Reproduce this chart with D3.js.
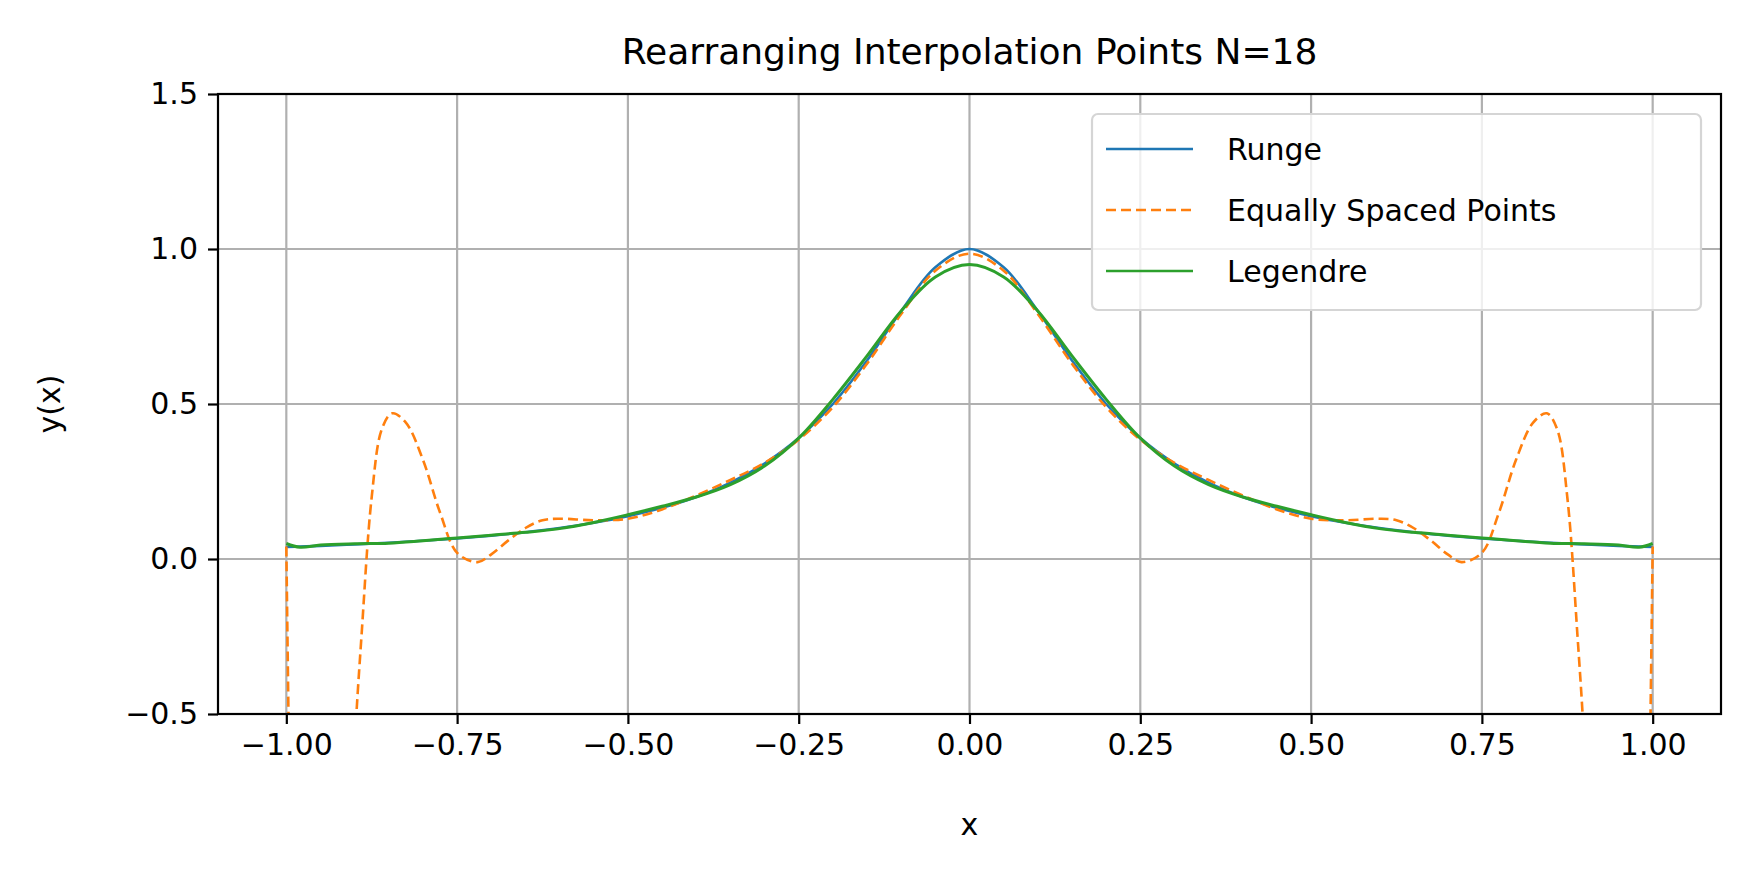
<html>
<head>
<meta charset="utf-8">
<script src="https://cdn.jsdelivr.net/npm/d3@7"></script>
</head>
<body style="margin:0;background:#fff;">
<svg></svg>
<script>
// values, right half (x >= 0); curves are symmetric
const rungeX = [0, .05, .1, .15, .2, .25, .3, .35, .4, .45, .5, .55, .6, .65, .7, .75, .8, .85, .9, .95, 1];
const rungeY = [1, .941, .8, .64, .5, .39, .308, .246, .2, .165, .138, .117, .1, .0865, .0755, .0664, .0588, .0525, .0471, .0424, .0385];
const equalX = [0, .05, .1, .15, .2, .25, .3, .35, .4, .45, .5, .55, .6, .625, .65, .675, .7, .72, .75, .775, .8, .825, .845, .86, .875, .89, .9, .93, .96, .98, .99, .995, 1];
const equalY = [.985, .93, .79, .63, .49, .385, .31, .255, .205, .16, .13, .125, .13, .125, .1, .06, .015, -.01, .02, .15, .32, .44, .47, .42, .2, -.25, -.6, -2, -3, -2.5, -1.5, -.8, .04];
const legX = [0, .05, .1, .15, .2, .25, .3, .35, .4, .45, .5, .55, .6, .65, .7, .75, .8, .85, .9, .95, .98, 1];
const legY = [.95, .91, .8, .655, .515, .39, .3, .24, .2, .17, .143, .118, .098, .086, .077, .068, .059, .051, .049, .045, .038, .05];
const xTicks = [-1, -.75, -.5, -.25, 0, .25, .5, .75, 1];
const yTicks = [-.5, 0, .5, 1, 1.5];
const names = ["Runge", "Equally Spaced Points", "Legendre"];
const colors = ["#1f77b4", "#ff7f0e", "#2ca02c"];

const W = 1743, H = 870;
const m = {l: 218, r: 1721, t: 94, b: 714};
const svg = d3.select("svg").attr("width", W).attr("height", H)
    .style("font-family", "DejaVu Sans");
const x = d3.scaleLinear().domain([-1.1, 1.1]).range([m.l, m.r]);
const y = d3.scaleLinear().domain([-.5, 1.5]).range([m.b, m.t]);

const mirror = (xs, ys) => {
    const pts = xs.map((v, i) => [v, ys[i]]);
    const left = pts.slice(1).map(p => [-p[0], p[1]]).reverse();
    return left.concat(pts);
};
const series = [mirror(rungeX, rungeY), mirror(equalX, equalY), mirror(legX, legY)];

svg.append("clipPath").attr("id", "clip").append("rect")
    .attr("x", m.l).attr("y", m.t).attr("width", m.r - m.l).attr("height", m.b - m.t);

// grid
const grid = svg.append("g").attr("stroke", "#b0b0b0").attr("stroke-width", 2.2);
grid.selectAll(".gx").data(xTicks).join("line")
    .attr("x1", d => x(d)).attr("x2", d => x(d)).attr("y1", m.t).attr("y2", m.b);
grid.selectAll(".gy").data(yTicks).join("line")
    .attr("y1", d => y(d)).attr("y2", d => y(d)).attr("x1", m.l).attr("x2", m.r);

const line = d3.line().x(d => x(d[0])).y(d => y(d[1])).curve(d3.curveCatmullRom.alpha(0.5));
svg.append("g").attr("clip-path", "url(#clip)").selectAll("path").data(series).join("path")
    .attr("fill", "none")
    .attr("stroke", (d, i) => colors[i])
    .attr("stroke-width", (d, i) => i == 2 ? 3 : 2.6)
    .attr("stroke-dasharray", (d, i) => i == 1 ? "10,5" : null)
    .attr("d", line);

// axes
const xa = svg.append("g").attr("transform", `translate(0,${m.b})`)
    .call(d3.axisBottom(x).tickValues(xTicks).tickSize(10).tickPadding(10).tickFormat(d3.format(".2f")));
const ya = svg.append("g").attr("transform", `translate(${m.l},0)`)
    .call(d3.axisLeft(y).tickValues(yTicks).tickSize(10).tickPadding(10).tickFormat(d3.format(".1f")));
[xa, ya].forEach(a => {
    a.select(".domain").remove();
    a.selectAll("line").attr("stroke", "#000").attr("stroke-width", 2.2);
    a.selectAll("text").attr("font-size", 30).attr("font-family", "DejaVu Sans").attr("fill", "#000");
});
svg.append("rect").attr("x", m.l).attr("y", m.t).attr("width", m.r - m.l).attr("height", m.b - m.t)
    .attr("fill", "none").attr("stroke", "#000").attr("stroke-width", 2.2);

svg.append("text").attr("x", (m.l + m.r) / 2).attr("y", 64).attr("text-anchor", "middle")
    .attr("font-size", 36).text("Rearranging Interpolation Points N=18");
svg.append("text").attr("x", (m.l + m.r) / 2).attr("y", 835).attr("text-anchor", "middle")
    .attr("font-size", 30).text("x");
svg.append("text").attr("transform", `translate(60,${(m.t + m.b) / 2}) rotate(-90)`)
    .attr("text-anchor", "middle").attr("font-size", 30).text("y(x)");

// legend
const lg = svg.append("g");
lg.append("rect").attr("x", 1092).attr("y", 114).attr("width", 609).attr("height", 196).attr("rx", 6)
    .attr("fill", "#fff").attr("fill-opacity", 0.8).attr("stroke", "#d5d5d5").attr("stroke-width", 2.2);
names.forEach((n, i) => {
    const yy = 149 + i * 61;
    lg.append("line").attr("x1", 1106).attr("x2", 1193).attr("y1", yy).attr("y2", yy)
        .attr("stroke", colors[i]).attr("stroke-width", 2.6)
        .attr("stroke-dasharray", i == 1 ? "10,5" : null);
    lg.append("text").attr("x", 1227).attr("y", yy + 11).attr("font-size", 30).text(n);
});
</script>
</body>
</html>
